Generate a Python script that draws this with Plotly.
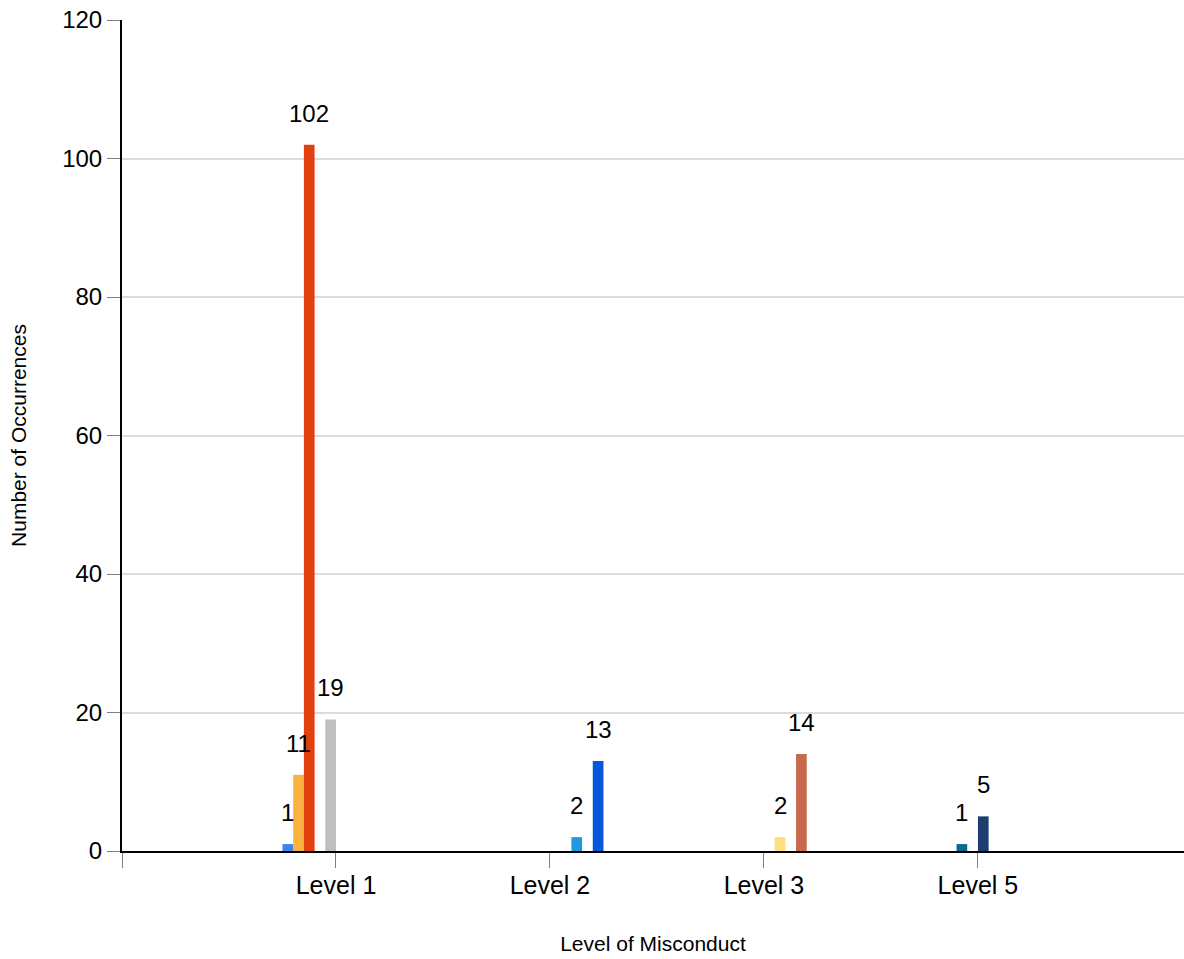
import plotly.graph_objects as go

categories = [" ", "Level 1", "Level 2", "Level 3", "Level 5"]

# one series per bar slot (in plotting order)
series_names = ["S1", "S2", "S3", "S4", "S5", "S6", "S7", "S8", "S9", "S10"]
series_cats = ["Level 1", "Level 1", "Level 1", "Level 5", "Level 1",
               "Level 5", "Level 3", "Level 2", "Level 3", "Level 2"]
series_vals = [1, 11, 102, 1, 19, 5, 2, 2, 14, 13]
series_colors = ["#3A84EC", "#F9B13F", "#E2410F", "#0B6A94", "#BFBFBF",
                 "#1D3E6E", "#FFE07F", "#1E9BDE", "#C8694B", "#0558D8"]

y_ticks = [0, 20, 40, 60, 80, 100, 120]

FONT = "Arial, Liberation Sans, sans-serif"
BARGAP = 0.5

fig = go.Figure()
n = len(series_vals)
slot = (1 - BARGAP) / n
annotations = []
for i, (name, cat, val, col) in enumerate(zip(series_names, series_cats, series_vals, series_colors)):
    fig.add_trace(go.Bar(
        x=[cat], y=[val], name=name,
        marker=dict(color=col, line=dict(width=0)),
        showlegend=False, hoverinfo="x+y",
    ))
    xpos = categories.index(cat) - (1 - BARGAP) / 2 + slot * (i + 0.5)
    annotations.append(dict(
        x=xpos, y=val, xref="x", yref="y", text=str(val), showarrow=False,
        yanchor="bottom", xanchor="center", yshift=16,
        font=dict(family=FONT, size=24, color="#000000"),
    ))

fig.update_layout(
    width=1184, height=959,
    margin=dict(l=122, r=0, t=20, b=108),
    paper_bgcolor="white", plot_bgcolor="white",
    barmode="group", bargap=BARGAP, bargroupgap=0,
    font=dict(family=FONT, color="#000000"),
    annotations=annotations,
    xaxis=dict(
        type="category", categoryorder="array", categoryarray=categories,
        range=[0, 4.963],
        showline=True, linecolor="#000000", linewidth=2,
        ticks="outside", ticklen=15, tickcolor="#808080", tickwidth=1,
        tickfont=dict(family=FONT, size=25, color="#000000"),
        ticklabelstandoff=-4,
        showgrid=False, zeroline=False,
        title=dict(text="Level of Misconduct", standoff=38,
                   font=dict(family=FONT, size=21, color="#000000")),
    ),
    yaxis=dict(
        range=[0, 120], tickvals=y_ticks,
        showline=True, linecolor="#000000", linewidth=2,
        ticks="outside", ticklen=13, tickcolor="#808080", tickwidth=1,
        tickfont=dict(family=FONT, size=24, color="#000000"),
        showgrid=True, gridcolor="#DCDCDC", gridwidth=2,
        zeroline=False,
        title=dict(text="Number of Occurrences", standoff=30,
                   font=dict(family=FONT, size=21, color="#000000")),
    ),
)

fig.write_html("out.html",
               config={"displayModeBar": False},
               post_script="document.body.style.margin='0';document.body.style.overflow='hidden';")
